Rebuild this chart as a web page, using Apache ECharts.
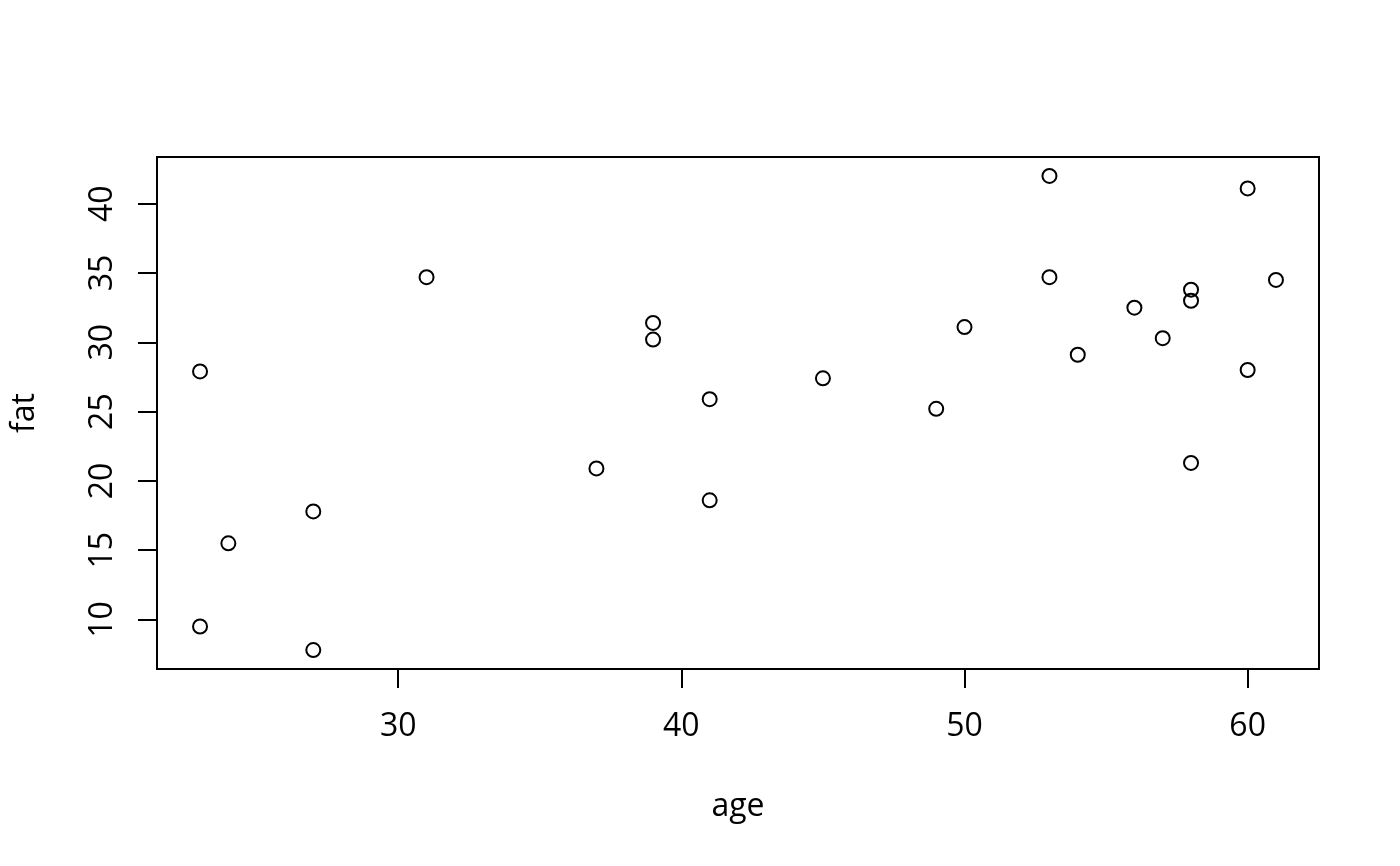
<!DOCTYPE html>
<html>
<head>
<meta charset="utf-8">
<script src="https://cdn.jsdelivr.net/npm/echarts@6/dist/echarts.min.js"></script>
<style>
html,body{margin:0;padding:0;background:#fff;}
#chart{width:1400px;height:866px;}
</style>
</head>
<body>
<div id="chart"></div>
<script>
const ages = [23, 23, 24, 27, 27, 31, 37, 39, 39, 41, 41, 45, 49, 50, 53, 53, 54, 56, 57, 58, 58, 58, 60, 60, 61];
const fats = [27.9, 9.5, 15.5, 17.8, 7.8, 34.7, 20.9, 31.4, 30.2, 25.9, 18.6, 27.4, 25.2, 31.1, 42.0, 34.7, 29.1, 32.5, 30.3, 33.8, 33.0, 21.3, 41.1, 28.0, 34.5];
const xTicks = [30, 40, 50, 60];
const yTicks = [10, 15, 20, 25, 30, 35, 40];
const xLabel = 'age';
const yLabel = 'fat';

// R-style 4% axis extension
function ext(arr){
  const mn = Math.min(...arr), mx = Math.max(...arr), d = (mx - mn) * 0.04;
  return [mn - d, mx + d];
}
const xr = ext(ages), yr = ext(fats);
const pts = ages.map((a, i) => [a, fats[i]]);

const font = '"Open Sans", "Noto Sans", sans-serif';
const chart = echarts.init(document.getElementById('chart'), null, {renderer: 'canvas'});
chart.setOption({
  animation: false,
  backgroundColor: '#ffffff',
  grid: {left: 157, right: 81, top: 157, bottom: 197, show: true, borderColor: '#000', borderWidth: 2, backgroundColor: 'transparent'},
  xAxis: {
    type: 'value', min: xr[0], max: xr[1],
    name: xLabel, nameLocation: 'middle', nameGap: 122,
    nameTextStyle: {fontFamily: font, fontSize: 32, color: '#000'},
    axisLine: {show: false},
    splitLine: {show: false},
    axisTick: {show: true, customValues: xTicks, length: 19, lineStyle: {color: '#000', width: 2}},
    axisLabel: {customValues: xTicks, margin: 42, fontFamily: font, fontSize: 32, color: '#000'}
  },
  yAxis: {
    type: 'value', min: yr[0], max: yr[1],
    name: yLabel, nameLocation: 'middle', nameGap: 116, nameRotate: 90,
    nameTextStyle: {fontFamily: font, fontSize: 32, color: '#000'},
    axisLine: {show: false},
    splitLine: {show: false},
    axisTick: {show: true, customValues: yTicks, length: 19, lineStyle: {color: '#000', width: 2}},
    axisLabel: {customValues: yTicks, rotate: 90, margin: 38, fontFamily: font, fontSize: 32, color: '#000'}
  },
  series: [{
    type: 'scatter',
    data: pts,
    symbol: 'circle',
    symbolSize: 14,
    itemStyle: {color: 'rgba(0,0,0,0)', borderColor: '#000', borderWidth: 2, opacity: 1},
    emphasis: {disabled: true}
  }]
});
</script>
</body>
</html>
